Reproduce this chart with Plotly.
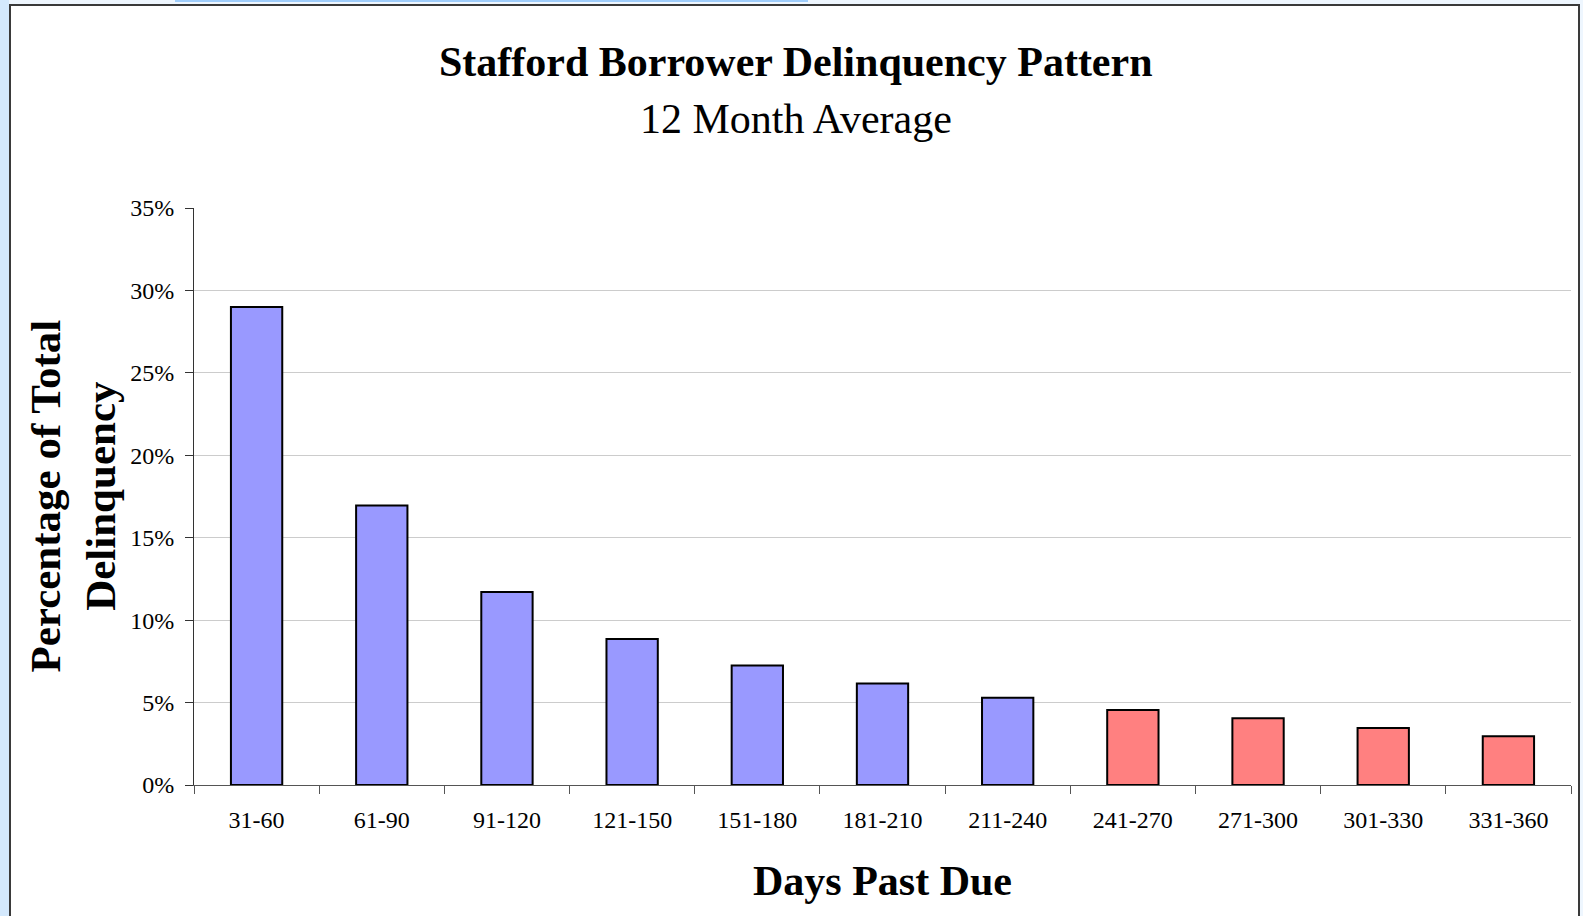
import plotly.graph_objects as go

# Delinquency buckets (days past due) and their share of total delinquency (%)
categories = ["31-60", "61-90", "91-120", "121-150", "151-180", "181-210",
              "211-240", "241-270", "271-300", "301-330", "331-360"]
share_pct = [29.0, 16.95, 11.7, 8.85, 7.25, 6.15, 5.3, 4.55, 4.05, 3.45, 2.95]
bar_colors = ["#9999FF"] * 7 + ["#FF8080"] * 4
y_ticks = [0, 5, 10, 15, 20, 25, 30, 35]
y_tick_text = [f"{v}%" for v in y_ticks]

W, H = 1583, 916
L, R, T, B = 194, 12, 208, 131
PW, PH = W - L - R, H - T - B


def px_x(x):
    return (x - L) / PW


def px_y(y):
    return 1 - (y - T) / PH


serif = "Liberation Serif, Times New Roman, serif"

fig = go.Figure(
    go.Bar(
        x=categories,
        y=share_pct,
        marker=dict(color=bar_colors, line=dict(color="#000000", width=2)),
        hoverinfo="x+y",
    )
)

shapes = [
    # outer chart frame
    dict(type="rect", xref="paper", yref="paper",
         x0=px_x(10), x1=px_x(1579), y0=px_y(940), y1=px_y(5),
         line=dict(color="#3a3a3a", width=2), fillcolor="white", layer="below"),
    # thin highlight strip along the top edge
    dict(type="rect", xref="paper", yref="paper",
         x0=px_x(175), x1=px_x(808), y0=px_y(2), y1=px_y(0),
         line=dict(width=0), fillcolor="#9fcdfb", layer="below"),
    dict(type="rect", xref="paper", yref="paper",
         x0=px_x(0), x1=px_x(9), y0=px_y(916), y1=px_y(0),
         line=dict(width=0), fillcolor="#d4e9fd", layer="below"),
]

annotations = [
    dict(text="<b>Stafford Borrower Delinquency Pattern</b>", xref="paper", yref="paper",
         x=px_x(796), y=px_y(62), xanchor="center", yanchor="middle", showarrow=False,
         font=dict(family=serif, size=42, color="#000000")),
    dict(text="12 Month Average", xref="paper", yref="paper",
         x=px_x(796), y=px_y(119), xanchor="center", yanchor="middle", showarrow=False,
         font=dict(family=serif, size=42, color="#000000")),
    dict(text="<b>Percentage of Total<br>Delinquency</b>", xref="paper", yref="paper",
         x=px_x(73), y=0.5, xanchor="center", yanchor="middle", showarrow=False,
         textangle=-90, font=dict(family=serif, size=43, color="#000000")),
    dict(text="<b>Days Past Due</b>", xref="paper", yref="paper",
         x=0.5, y=px_y(881), xanchor="center", yanchor="middle", showarrow=False,
         font=dict(family=serif, size=42, color="#000000")),
]

fig.update_layout(
    width=W, height=H,
    margin=dict(l=L, r=R, t=T, b=B, pad=0),
    paper_bgcolor="#eef6fe",
    plot_bgcolor="rgba(0,0,0,0)",
    bargap=0.59,
    showlegend=False,
    shapes=shapes,
    annotations=annotations,
    font=dict(family=serif, color="#000000"),
)

fig.update_xaxes(
    type="category",
    showgrid=False,
    showline=True, linecolor="#555555", linewidth=1,
    ticks="outside", tickson="boundaries", ticklen=8, tickcolor="#555555",
    tickfont=dict(family=serif, size=24, color="#000000"),
    ticklabelstandoff=13,
    zeroline=False,
)

fig.update_yaxes(
    range=[0, 35],
    tickvals=y_ticks, ticktext=y_tick_text,
    showgrid=True, gridcolor="#cccccc", gridwidth=1,
    showline=True, linecolor="#333333", linewidth=1,
    ticks="outside", ticklen=8, tickcolor="#333333",
    tickfont=dict(family=serif, size=24, color="#000000"),
    ticklabelstandoff=6,
    zeroline=False,
)

fig.write_html("out.html")
